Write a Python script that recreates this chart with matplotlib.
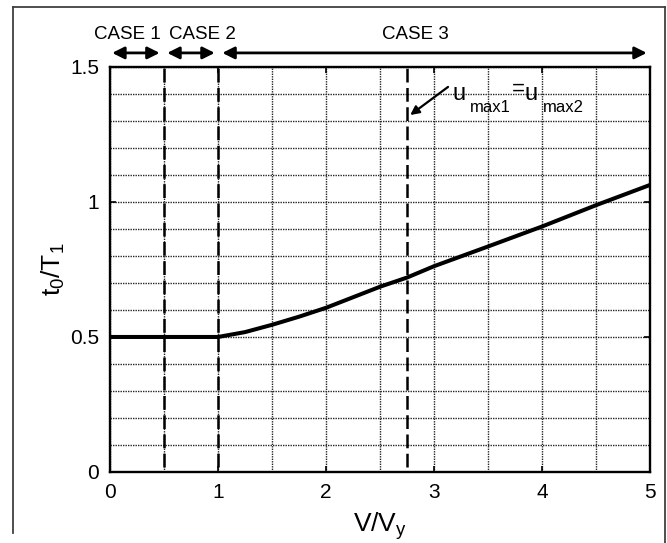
import matplotlib
matplotlib.use("Agg")
import numpy as np
import matplotlib.pyplot as plt
from matplotlib.lines import Line2D

plt.rcParams['font.family'] = ['Liberation Sans', 'DejaVu Sans']
plt.rcParams['mathtext.fontset'] = 'custom'
plt.rcParams['mathtext.rm'] = 'Liberation Sans'
plt.rcParams['mathtext.it'] = 'Liberation Sans'

# t0/T1 against V/Vy
v_ratio = [0.0, 1.0, 1.25, 1.5, 1.75, 2.0, 2.5, 2.75, 3.0, 3.5, 4.0, 4.5, 5.0]
t_ratio = [0.5, 0.5, 0.518, 0.545, 0.575, 0.608, 0.686, 0.72, 0.762, 0.835, 0.909, 0.988, 1.063]

# case boundaries and the umax1 = umax2 point
case_bounds = [0.5, 1.0]
umax_equal = 2.75

# case ranges (arrow ends) and label positions
case_spans = [(0.02, 0.46), (0.53, 0.97), (1.04, 4.97)]
case_labels = ['CASE 1', 'CASE 2', 'CASE 3']
case_label_x = [0.157, 0.86, 2.83]

fig = plt.figure(figsize=(6.67, 5.43), dpi=100)
ax = fig.add_axes([0.1649, 0.1308, 0.8096, 0.7459])

ax.set_xlim(0, 5)
ax.set_ylim(0, 1.5)
ax.set_xticks([0, 1, 2, 3, 4, 5])
ax.set_xticks(np.arange(0, 5.01, 0.5), minor=True)
ax.set_yticks([0, 0.5, 1, 1.5])
ax.set_yticklabels(['0', '0.5', '1', '1.5'])
ax.set_yticks(np.arange(0, 1.51, 0.1), minor=True)

ax.grid(which='both', color='0.15', linestyle=(0, (1.0, 0.8)), linewidth=1.0)
ax.tick_params(which='major', direction='in', length=4, width=1.2,
               top=True, right=True, labelsize=15, pad=8)
ax.tick_params(which='minor', length=0)
for s in ax.spines.values():
    s.set_linewidth(1.7)

for xb in case_bounds + [umax_equal]:
    ax.plot([xb, xb], [0.02, 1.5], color='black', lw=1.8, dashes=[5.5, 2.2])

ax.plot(v_ratio, t_ratio, color='black', lw=2.9, solid_capstyle='butt',
        solid_joinstyle='round')

ax.set_xlabel(r'$\mathregular{V/V_y}$', fontsize=19, labelpad=6)
ax.set_ylabel(r'$\mathregular{t_0/T_1}$', fontsize=19, labelpad=2)

# case arrows above the axes
for (x0, x1), lab, lx in zip(case_spans, case_labels, case_label_x):
    ax.annotate('', xy=(x1, 1.552), xytext=(x0, 1.552), xycoords='data',
                annotation_clip=False,
                arrowprops=dict(arrowstyle='<|-|>', color='black', lw=2.0,
                                mutation_scale=18, shrinkA=0, shrinkB=0))
    ax.text(lx, 1.619, lab, ha='center', va='center', fontsize=13.5, clip_on=False)

# umax1 = umax2 marker
ax.annotate('', xy=(2.78, 1.322), xytext=(3.13, 1.426),
            arrowprops=dict(arrowstyle='-|>', color='black', lw=1.6,
                            mutation_scale=13, shrinkA=0, shrinkB=0))
ax.text(3.167, 1.378, 'u', fontsize=17, ha='left', va='baseline')
ax.text(3.333, 1.333, 'max1', fontsize=12, ha='left', va='baseline')
ax.text(3.72, 1.418, '=', fontsize=16, ha='left', va='center')
ax.text(3.84, 1.378, 'u', fontsize=17, ha='left', va='baseline')
ax.text(4.01, 1.333, 'max2', fontsize=12, ha='left', va='baseline')

# outer frame
W, H = 667, 543
for xs, ys in [([13, 665], [7, 7]), ([13, 13], [7, 533]), ([665, 665], [7, 543])]:
    fig.add_artist(Line2D([x / W for x in xs], [1 - y / H for y in ys],
                          color='0.25', lw=1.3, transform=fig.transFigure))

fig.savefig('out.png', dpi=100)
